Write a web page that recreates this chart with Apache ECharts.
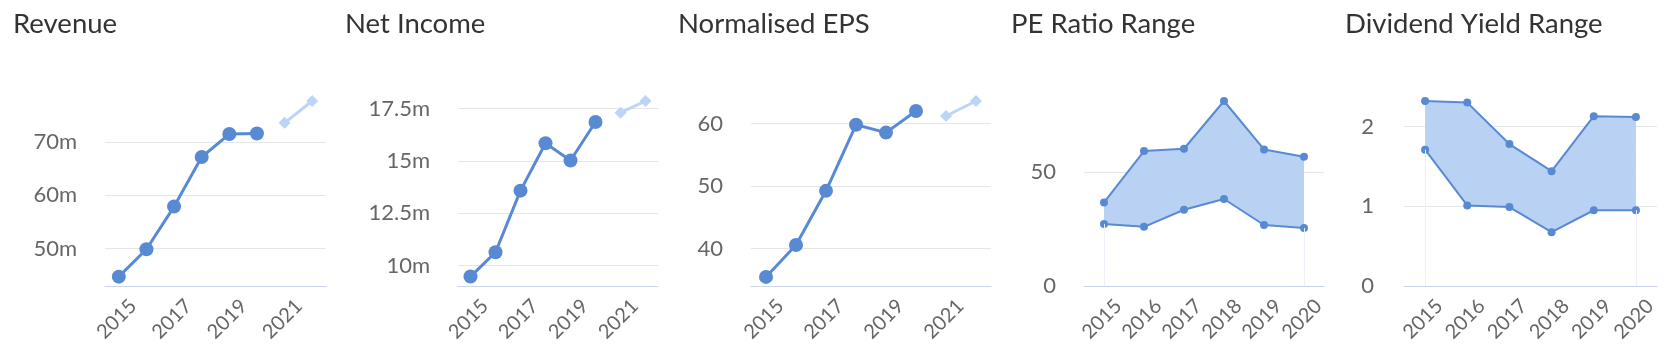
<!DOCTYPE html>
<html>
<head>
<meta charset="utf-8">
<script src="https://cdn.jsdelivr.net/npm/echarts@6/dist/echarts.min.js"></script>
<style>
  html, body { margin: 0; padding: 0; background: #ffffff; }
  #chart { width: 1677px; height: 364px; }
</style>
</head>
<body>
<div id="chart"></div>
<script>
// ---------- data ----------
const titles = ['Revenue', 'Net Income', 'Normalised EPS', 'PE Ratio Range', 'Dividend Yield Range'];

const lineYears = ['2015', '2016', '2017', '2018', '2019', '2020', '2021', '2022'];
const rangeYears = ['2015', '2016', '2017', '2018', '2019', '2020'];

const revenueActual = [44.75, 49.9, 57.9, 67.2, 71.5, 71.6];
const revenueForecast = [73.6, 77.7];
const revenueTicks = [50, 60, 70];
const revenueExtent = [43.0, 77.7];

const netIncomeActual = [9.48, 10.64, 13.58, 15.84, 15.02, 16.86];
const netIncomeForecast = [17.3, 17.86];
const netIncomeTicks = [10, 12.5, 15, 17.5];
const netIncomeExtent = [9.03, 17.86];

const epsActual = [35.5, 40.6, 49.25, 59.8, 58.55, 62.0];
const epsForecast = [61.2, 63.6];
const epsTicks = [40, 50, 60];
const epsExtent = [34.05, 63.6];

const peHigh = [36.6, 59.1, 60.1, 81.0, 59.8, 56.6];
const peLow = [27.1, 25.9, 33.4, 38.1, 26.7, 25.4];
const peTicks = [0, 50];
const peExtent = [0, 81.0];

const dyHigh = [2.32, 2.30, 1.78, 1.44, 2.13, 2.12];
const dyLow = [1.71, 1.01, 0.99, 0.675, 0.95, 0.95];
const dyTicks = [0, 1, 2];
const dyExtent = [0, 2.32];

// ---------- styling ----------
const FONT = 'Lato';
const MAIN = '#588ad4';
const LIGHT = '#bcd5f6';
const FILL = '#b9d1f3';
const GRID_TOP = 101, GRID_H = 185;
const gridDefs = [
  { left: 105, width: 221, labelMargin: 28 },
  { left: 458, width: 200, labelMargin: 28 },
  { left: 751, width: 240, labelMargin: 28 },
  { left: 1084, width: 240, labelMargin: 28 },
  { left: 1404, width: 253, labelMargin: 30 }
];
const titleLefts = [13, 345, 678, 1011, 1345];

const chart = echarts.init(document.getElementById('chart'), null, { renderer: 'canvas' });

function xAxisFor(i, cats, interval) {
  return {
    type: 'category', gridIndex: i, data: cats, boundaryGap: true,
    axisLine: { show: true, lineStyle: { color: '#ccd6eb', width: 1 } },
    axisTick: { show: false },
    splitLine: { show: false },
    axisLabel: {
      show: true, interval: interval, rotate: 45,
      color: '#666666', fontFamily: FONT, fontSize: 20,
      align: 'center', verticalAlign: 'middle', padding: [0, 6, 0, 0], margin: 31,
      hideOverlap: false
    }
  };
}
function yAxisFor(i, extent, ticks, fmt) {
  return {
    type: 'value', gridIndex: i, min: extent[0], max: extent[1],
    axisLine: { show: false },
    axisTick: { show: false, customValues: ticks },
    splitLine: { show: true, lineStyle: { color: '#e6e6e6', width: 1 } },
    axisLabel: {
      show: true, customValues: ticks, color: '#666666', fontFamily: FONT, fontSize: 22,
      margin: gridDefs[i].labelMargin, formatter: fmt
    }
  };
}
function pad(actual, forecast) {
  return actual.concat(forecast.map(() => null));
}
function padF(actual, forecast) {
  return actual.map(() => null).concat(forecast);
}
function lineSeries(i, actual, forecast) {
  return [
    {
      type: 'line', xAxisIndex: i, yAxisIndex: i, data: pad(actual, forecast),
      symbol: 'circle', symbolSize: 14, showAllSymbol: true,
      lineStyle: { color: MAIN, width: 3 }, itemStyle: { color: MAIN },
      silent: true, animation: false, z: 3
    },
    {
      type: 'line', xAxisIndex: i, yAxisIndex: i, data: padF(actual, forecast),
      symbol: 'diamond', symbolSize: 12, showAllSymbol: true,
      lineStyle: { color: LIGHT, width: 3 }, itemStyle: { color: LIGHT },
      silent: true, animation: false, z: 3
    }
  ];
}
function rangeSeries(i, cats, low, high) {
  const edgeLines = [
    [{ coord: [cats[0], 0] }, { coord: [cats[0], low[0]] }],
    [{ coord: [cats[cats.length - 1], 0] }, { coord: [cats[cats.length - 1], low[low.length - 1]] }]
  ];
  return [
    {
      type: 'line', xAxisIndex: i, yAxisIndex: i, data: low, stack: 'range' + i,
      symbol: 'circle', symbolSize: 8, showAllSymbol: true,
      lineStyle: { color: MAIN, width: 2 }, itemStyle: { color: MAIN },
      areaStyle: { opacity: 0 },
      markLine: {
        silent: true, symbol: 'none', label: { show: false },
        lineStyle: { color: '#edf1f9', width: 1, type: 'solid' },
        data: edgeLines
      },
      silent: true, animation: false, z: 4
    },
    {
      type: 'line', xAxisIndex: i, yAxisIndex: i, data: high.map((h, k) => h - low[k]), stack: 'range' + i,
      symbol: 'circle', symbolSize: 8, showAllSymbol: true,
      lineStyle: { color: MAIN, width: 2 }, itemStyle: { color: MAIN },
      areaStyle: { color: FILL, opacity: 1 },
      silent: true, animation: false, z: 3
    }
  ];
}

const option = {
  backgroundColor: '#ffffff',
  animation: false,
  textStyle: { fontFamily: FONT },
  title: titles.map((t, i) => ({
    text: t, left: titleLefts[i], top: 10.5, padding: 0,
    textStyle: { fontFamily: FONT, fontSize: 27.5, fontWeight: 'normal', color: '#333333' }
  })),
  grid: gridDefs.map(g => ({ left: g.left, width: g.width, top: GRID_TOP, height: GRID_H, containLabel: false })),
  xAxis: [
    xAxisFor(0, lineYears, 1),
    xAxisFor(1, lineYears, 1),
    xAxisFor(2, lineYears, 1),
    xAxisFor(3, rangeYears, 0),
    xAxisFor(4, rangeYears, 0)
  ],
  yAxis: [
    yAxisFor(0, revenueExtent, revenueTicks, v => v + 'm'),
    yAxisFor(1, netIncomeExtent, netIncomeTicks, v => v + 'm'),
    yAxisFor(2, epsExtent, epsTicks, v => String(v)),
    yAxisFor(3, peExtent, peTicks, v => String(v)),
    yAxisFor(4, dyExtent, dyTicks, v => String(v))
  ],
  series: [].concat(
    lineSeries(0, revenueActual, revenueForecast),
    lineSeries(1, netIncomeActual, netIncomeForecast),
    lineSeries(2, epsActual, epsForecast),
    rangeSeries(3, rangeYears, peLow, peHigh),
    rangeSeries(4, rangeYears, dyLow, dyHigh)
  )
};
chart.setOption(option);
</script>
</body>
</html>
